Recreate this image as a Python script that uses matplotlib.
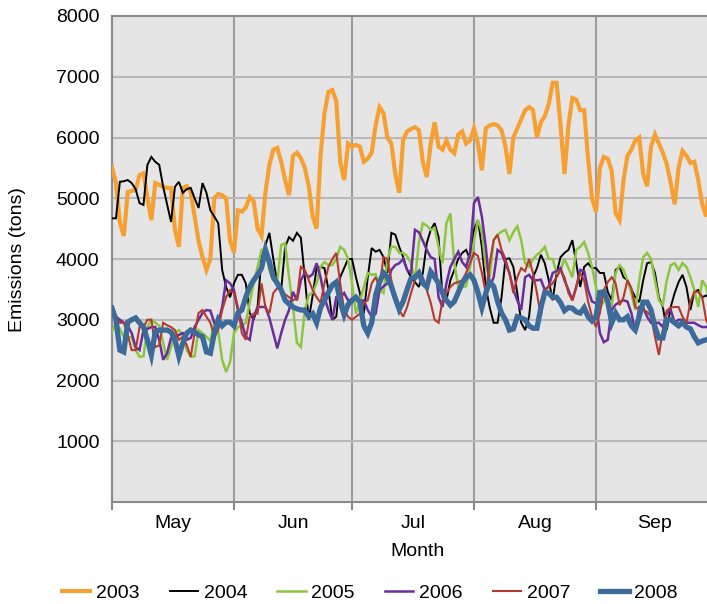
import matplotlib
matplotlib.use("Agg")
import matplotlib.pyplot as plt
import numpy as np
from matplotlib.lines import Line2D

# daily emissions (tons), 1 May .. 30 Sep
y2003 = [5510, 5250, 4600, 4380, 5100, 5120, 5140, 5380, 5410, 5000, 4640, 5250, 5220, 5190, 5170, 5170,
         4480, 4200, 5170, 5200, 5100, 4700, 4300, 4030, 3820, 4000, 5000, 5070, 5050, 5000, 4300,
         4100, 4800, 4780, 4850, 5020, 4950, 4500, 4380, 5100, 5550, 5800, 5830, 5600, 5300, 5050,
         5700, 5750, 5660, 5500, 5200, 4700, 4500, 5700, 6400, 6750, 6780, 6600, 5600, 5300, 5900,
         5850, 5880, 5850, 5600, 5650, 5750, 6200, 6500, 6400, 6000, 5900, 5400, 5090, 5960, 6100,
         6140, 6170, 6120, 5600, 5350, 5900, 6250, 5850, 5800, 5950, 5800, 5740, 6050, 6100, 5900, 5950,
         6150, 5900, 5460, 6150, 6200, 6220, 6200, 6120, 5850, 5400, 6000, 6150, 6300, 6450, 6500,
         6450, 6000, 6250, 6350, 6550, 6900, 6900, 6200, 5400, 6200, 6650, 6620, 6450, 6450, 5650, 5000,
         4780, 5500, 5680, 5650, 5450, 4750, 4640, 5300, 5700, 5800, 5950, 6000, 5400, 5200, 5850,
         6050, 5900, 5750, 5560, 5250, 4900, 5500, 5780, 5700, 5580, 5600, 5300, 4900, 4700, 5300]
y2004 = [4670, 4670, 5270, 5280, 5300, 5250, 5150, 4920, 4890, 5550, 5680, 5600, 5550, 5190, 4900, 4610,
         5190, 5270, 5090, 5150, 5170, 5000, 4840, 5250, 5090, 4800, 4700, 4590, 3820, 3540, 3370,
         3600, 3740, 3740, 3600, 3110, 3000, 3210, 4030, 4230, 4430, 4000, 3600, 3490, 4200, 4360,
         4300, 4430, 4350, 3700, 3000, 3400, 3850, 3870, 3850, 3500, 3000, 3050, 3700, 3850, 4000,
         4000, 3700, 3440, 3100, 3700, 4180, 4120, 4150, 4030, 3770, 4430, 4400, 4200, 4030, 3820,
         3700, 3620, 3540, 3770, 4260, 4480, 4590, 4360, 3370, 3320, 3650, 3820, 4000, 4100, 4150, 4000,
         4480, 4640, 4200, 3540, 3200, 2950, 2950, 3370, 4000, 4010, 3870, 3440, 2950, 2830, 3050,
         3700, 3850, 4070, 3930, 3650, 3320, 3770, 4030, 4100, 4150, 4310, 3930, 3540, 3870, 3930, 3850,
         3850, 3770, 3770, 3460, 3320, 3820, 3870, 3700, 3650, 3500, 3370, 3290, 3650, 3930, 3950,
         3770, 3370, 3210, 2830, 3210, 3440, 3620, 3740, 3540, 3160, 3460, 3490, 3370, 3400, 3350]
y2005 = [2800, 2950, 2850, 2720, 2700, 2720, 2500, 2390, 2400, 2880, 3000, 2950, 2900, 2620, 2340, 2550,
         2780, 2830, 2750, 2500, 2390, 2400, 2830, 2780, 2720, 2650, 2950, 2800, 2340, 2140, 2300,
         2780, 2880, 2900, 2950, 3280, 3600, 3870, 4150, 4150, 3820, 3650, 3620, 4230, 4260, 3700,
         3210, 2620, 2550, 3160, 3400, 3450, 3600, 3870, 3950, 3900, 3900, 4000, 4200, 4150, 4000,
         3600, 3100, 3300, 3540, 3770, 3740, 3750, 3490, 3440, 4000, 4200, 4200, 4100, 4100, 4050,
         3930, 3650, 4280, 4590, 4550, 4480, 4510, 4200, 3930, 4590, 4750, 3930, 3540, 3540, 3550, 3870,
         4300, 4640, 4440, 3870, 3700, 4310, 4400, 4450, 4480, 4310, 4440, 4540, 4310, 3930, 3870,
         4000, 4070, 4120, 4200, 4000, 4000, 3770, 3820, 4000, 3850, 3700, 4150, 4200, 4280, 4100, 3870,
         3540, 3210, 3300, 3320, 3210, 3770, 3900, 3820, 3650, 3440, 3160, 3650, 4030, 4100, 4000,
         3650, 3320, 3240, 3650, 3900, 3930, 3820, 3930, 3870, 3700, 3490, 3210, 3650, 3540, 3300]
y2006 = [3210, 3050, 3000, 2950, 2900, 2780, 2550, 2500, 2830, 2850, 2880, 2880, 2670, 2340, 2450, 2700,
         2720, 2750, 2780, 2670, 2700, 2880, 3000, 3110, 3160, 3150, 2950, 2950, 3210, 3650, 3600,
         3490, 3160, 2950, 2720, 2670, 3050, 3210, 3210, 3210, 3030, 2780, 2530, 2780, 3000, 3160,
         3460, 3320, 3650, 3770, 3700, 3750, 3930, 3700, 3370, 3160, 3000, 3370, 3370, 3440, 3320,
         3330, 3370, 3300, 3320, 3160, 3050, 3100, 3490, 3550, 3600, 3820, 3900, 3930, 4000, 3820,
         3770, 4480, 4440, 4300, 4150, 4030, 4000, 3370, 3210, 3600, 3870, 4000, 4120, 3950, 3870, 4100,
         4920, 5020, 4700, 4200, 3540, 3700, 4150, 4100, 3930, 3770, 3500, 3320, 3160, 3700, 3740,
         3650, 3650, 3660, 3490, 3550, 3770, 3800, 3850, 3650, 3490, 3320, 3540, 3820, 3800, 3490, 3300,
         3270, 2780, 2630, 2670, 3160, 3250, 3290, 3320, 3300, 3110, 2800, 3210, 3200, 3050, 2950,
         2950, 2950, 2880, 3110, 3160, 2950, 3000, 3000, 2950, 2950, 2950, 2910, 2880, 2880, 2900]
y2007 = [3210, 3050, 2950, 2950, 2750, 2500, 2500, 2880, 2880, 3000, 3000, 2550, 2580, 2950, 2910, 2880,
         2830, 2670, 2720, 2580, 2390, 2780, 3110, 3160, 3050, 2950, 2720, 2830, 3160, 3370, 3490,
         3440, 3210, 2780, 2670, 3050, 3100, 3100, 3600, 3200, 3110, 3440, 3520, 3490, 3420, 3370,
         3320, 3350, 3870, 3820, 3650, 3490, 3370, 3280, 3600, 3870, 4000, 4100, 3600, 3160, 3050,
         3000, 3050, 3100, 3280, 3320, 3600, 3700, 3540, 4030, 4000, 3650, 3370, 3160, 3050, 3210,
         3440, 3650, 3770, 3700, 3490, 3280, 3000, 2950, 3320, 3440, 3540, 3600, 3620, 3650, 3770, 3930,
         4100, 4050, 3770, 3440, 3930, 4310, 4400, 4150, 4000, 3770, 3440, 3700, 3850, 3800, 4000,
         3770, 3440, 3050, 3490, 3540, 3600, 3700, 3820, 3700, 3440, 3320, 3550, 3770, 3650, 3300, 3050,
         2880, 3110, 3490, 3620, 3700, 3600, 3240, 3370, 3650, 3520, 3210, 3170, 3160, 3130, 3050,
         2720, 2420, 2830, 3150, 3200, 3210, 3210, 3050, 2950, 3290, 3460, 3460, 3370, 3000, 2860]
y2008 = [3190, 3000, 2500, 2470, 2960, 3000, 3030, 2950, 2880, 2670, 2420, 2800, 2830, 2830, 2830, 2800,
         2670, 2400, 2620, 2780, 2830, 2800, 2750, 2720, 2470, 2450, 2780, 3000, 2900, 2960, 2960,
         2900, 3110, 3160, 3370, 3540, 3650, 3740, 3850, 4150, 3950, 3700, 3600, 3490, 3320, 3260,
         3210, 3180, 3160, 3160, 3050, 3100, 2950, 3200, 3320, 3450, 3570, 3620, 3300, 3080, 3250,
         3320, 3370, 3290, 2900, 2780, 2950, 3400, 3620, 3770, 3700, 3550, 3350, 3170, 3300, 3500,
         3680, 3700, 3770, 3600, 3540, 3790, 3700, 3600, 3440, 3320, 3240, 3300, 3450, 3600, 3700, 3740,
         3650, 3450, 3200, 3440, 3620, 3550, 3300, 3110, 3000, 2830, 2850, 3050, 3030, 3000, 2900,
         2860, 2860, 3200, 3450, 3440, 3370, 3370, 3280, 3150, 3200, 3190, 3130, 3110, 3200, 3050, 2980,
         3050, 3450, 3460, 3300, 2950, 3110, 3000, 3000, 3050, 2900, 2830, 3050, 3290, 3290, 3160,
         2880, 2700, 2700, 3000, 3000, 2950, 2900, 2950, 2880, 2850, 2720, 2620, 2650, 2670, 2670]

years = ["2003", "2004", "2005", "2006", "2007", "2008"]
series = [y2003, y2004, y2005, y2006, y2007, y2008]
months = ["May", "Jun", "Jul", "Aug", "Sep"]
month_starts = [0, 31, 61, 92, 123, 153]
y_ticks = [1000, 2000, 3000, 4000, 5000, 6000, 7000, 8000]

STYLE = {
    "2003": ("#f6a033", 3.0),
    "2004": ("#000000", 1.4),
    "2005": ("#8cc63f", 1.8),
    "2006": ("#6b2c9c", 1.8),
    "2007": ("#b5392d", 1.5),
    "2008": ("#3b6a9b", 3.8),
}

plt.rcParams["font.family"] = ["Liberation Sans", "DejaVu Sans"]
W, H = 707, 604
fig = plt.figure(figsize=(W / 100, H / 100), dpi=100, facecolor="white")
# the original chart was cropped on the right: the axes run past the edge
ax = fig.add_axes([112 / W, 1 - 502 / H, 602 / W, 486 / H])
ax.set_facecolor("#e5e5e5")

for name, vals in zip(years, series):
    color, lw = STYLE[name]
    ax.plot(np.arange(len(vals)), vals, color=color, linewidth=lw,
            solid_joinstyle="miter", zorder=3)

ax.set_xlim(0, 153)
ax.set_ylim(0, 8000)
ax.set_yticks(y_ticks)
ax.set_yticklabels([str(v) for v in y_ticks])
ax.tick_params(axis="y", length=0, pad=9, labelsize=14, colors="#000000")
ax.grid(axis="y", color="#b9b9b9", linewidth=1.5, zorder=1)

ax.set_xticks(month_starts)
ax.set_xticklabels([])
ax.tick_params(axis="x", which="major", length=6, width=1.5, color="#8a8a8a")
ax.set_xticks([(a + b) / 2 for a, b in zip(month_starts[:-1], month_starts[1:])], minor=True)
ax.set_xticklabels(months, minor=True)
ax.tick_params(axis="x", which="minor", length=0, pad=9, labelsize=14)
ax.grid(axis="x", which="major", color="#9c9c9c", linewidth=1.5, zorder=1)
ax.set_axisbelow(True)

for side in ("left", "bottom", "top"):
    ax.spines[side].set_color("#8a8a8a")
    ax.spines[side].set_linewidth(1.5)
ax.spines["right"].set_visible(False)

fig.text(417 / W, 1 - 552 / H, "Month", ha="center", va="center", fontsize=14)
fig.text(18 / W, 1 - 260 / H, "Emissions (tons)", rotation=90, ha="center",
         va="center", fontsize=14)

handles = [Line2D([], [], color=STYLE[n][0], linewidth=STYLE[n][1]) for n in years]
fig.legend(handles, years, loc="center", bbox_to_anchor=(370 / W, 1 - 593 / H),
           ncol=6, frameon=False, fontsize=14, handlelength=1.45, handletextpad=0.3,
           columnspacing=1.55, borderaxespad=0, borderpad=0)

fig.savefig("out.png", dpi=100, facecolor="white")
